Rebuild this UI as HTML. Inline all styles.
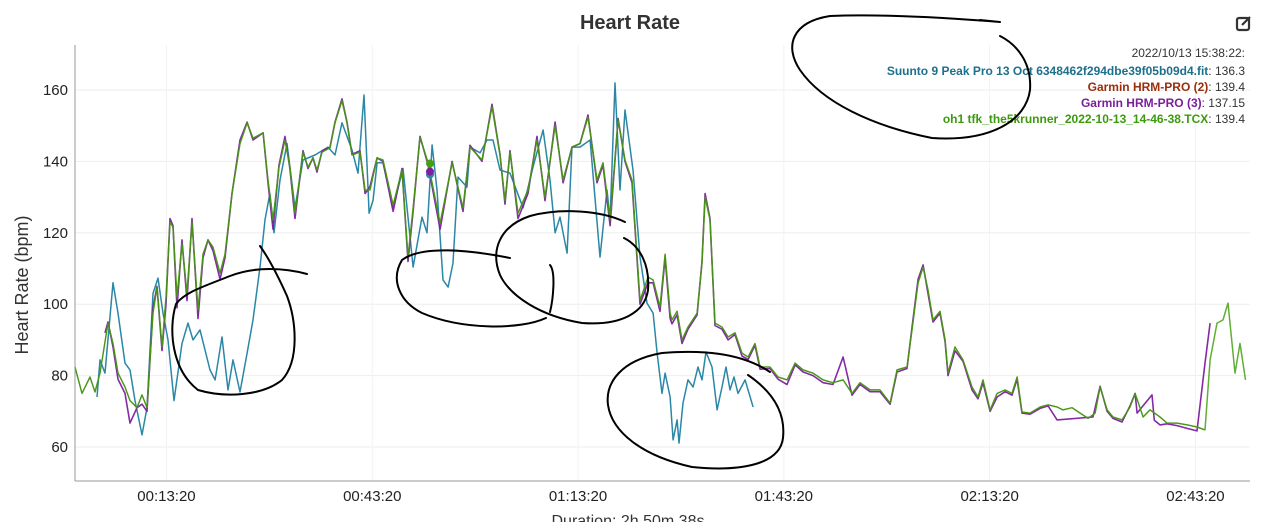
<!DOCTYPE html>
<html><head><meta charset="utf-8"><style>
html,body{margin:0;padding:0;background:#fff;width:1263px;height:522px;overflow:hidden;font-family:"Liberation Sans",sans-serif}
svg{display:block}
</style></head><body>
<svg id="chart" width="1263" height="522">
<text x="630" y="29" text-anchor="middle" font-size="20" font-weight="bold" fill="#333">Heart Rate</text>
<g transform="translate(1236,15)">
<rect x="1" y="3" width="12" height="12" rx="2" fill="none" stroke="#333" stroke-width="2.2"/>
<path d="M6 10 L14 2" stroke="#333" stroke-width="2.2"/>
</g>
<g id="grid"></g>
<g id="series"></g>
<line x1="75" y1="45" x2="75" y2="481" stroke="#999"/>
<line x1="75" y1="481" x2="1250" y2="481" stroke="#999"/>
<g id="ticks" font-size="15" fill="#222"></g>
<text transform="translate(28,285) rotate(-90)" text-anchor="middle" font-size="18" fill="#333">Heart Rate (bpm)</text>
<text x="628" y="526" text-anchor="middle" font-size="16" fill="#333">Duration: 2h 50m 38s</text>
<g font-size="12" text-anchor="end">
<text x="1245" y="57" fill="#333">2022/10/13 15:38:22:</text>
<text x="1245" y="75"><tspan fill="#1d6f8c" font-weight="bold">Suunto 9 Peak Pro 13 Oct 6348462f294dbe39f05b09d4.fit</tspan><tspan fill="#333">: 136.3</tspan></text>
<text x="1245" y="91"><tspan fill="#9a2e0c" font-weight="bold">Garmin HRM-PRO (2)</tspan><tspan fill="#333">: 139.4</tspan></text>
<text x="1245" y="107"><tspan fill="#7a1f9a" font-weight="bold">Garmin HRM-PRO (3)</tspan><tspan fill="#333">: 137.15</tspan></text>
<text x="1245" y="123"><tspan fill="#3d9a0e" font-weight="bold">oh1 tfk_the5krunner_2022-10-13_14-46-38.TCX</tspan><tspan fill="#333">: 139.4</tspan></text>
</g>
<g fill="none" stroke="#000" stroke-width="2" stroke-linecap="round">
<path d="M307,274 C285,268 255,266 230,276 C205,286 185,292 176,304 C168,330 172,370 198,390 C225,398 262,396 282,380 C300,360 296,320 287,296 C278,276 270,260 260,246"/>
<path d="M510,258 C470,250 422,245 402,260 C390,280 400,302 422,313 C462,330 520,330 546,318"/>
<path d="M625,222 C600,210 560,208 530,216 C500,226 490,250 500,275 C510,296 540,316 582,323 C622,326 645,312 648,290 C650,265 640,246 624,238 M550,265 C556,272 553,300 550,312"/>
<path d="M770,372 C740,352 700,350 662,353 C622,360 605,382 608,405 C612,432 642,456 692,467 C742,472 780,464 783,438 C786,410 770,390 748,375"/>
<path d="M1000,22 C950,18 880,14 830,16 C792,22 784,46 800,70 C822,102 872,126 932,138 C992,142 1026,120 1030,90 C1032,62 1016,44 1000,36 M980,20 L1000,22"/>
</g>
</svg>
<script>
const yTicks=[60,80,100,120,140,160];
const xTickSec=[800,2600,4400,6200,8000,9800];
const xTickLabels=["00:13:20","00:43:20","01:13:20","01:43:20","02:13:20","02:43:20"];
const greenTimes=[0,61,131,175,219,289,332,376,437,481,542,586,630,682,717,761,796,831,857,892,936,980,1023,1076,1120,1163,1207,1268,1312,1373,1443,1505,1557,1645,1688,1732,1784,1837,1880,1924,1994,2038,2082,2117,2161,2230,2274,2335,2379,2423,2493,2537,2580,2642,2694,2782,2860,2913,2957,3018,3088,3193,3298,3394,3455,3560,3647,3717,3761,3805,3875,3962,4041,4111,4199,4269,4347,4417,4487,4566,4618,4680,4750,4811,4872,4942,5012,5056,5117,5161,5205,5222,5266,5309,5362,5441,5484,5511,5554,5598,5659,5712,5773,5834,5887,5948,5992,6079,6149,6228,6298,6368,6455,6543,6630,6718,6796,6866,6954,7041,7129,7190,7277,7321,7374,7418,7461,7505,7566,7610,7636,7697,7767,7846,7898,7942,8004,8065,8135,8196,8240,8283,8353,8441,8511,8590,8642,8721,8791,8861,8922,8966,9027,9079,9158,9228,9272,9342,9403,9490,9552,9639,9727,9814,9884,9928,9989,10041,10085,10146,10190,10238];
const greenValues=[82.4,75,79.6,75.4,80.7,94.7,89,80.7,76.8,73,71,74.6,71,97.5,104.8,88,102,123,121.6,102,117,103,123,98.4,114,118,116,108.7,114,131,145,150.8,146.5,148,134.8,123.6,138.4,146,138.4,125.5,142.6,138.4,141,137.6,142.6,143.8,150.8,157,150.8,141.8,142.6,132,132,141,140.4,127.8,137.6,113.2,127,146.8,139.6,122.7,139.6,127,144,140.4,155.3,141.8,129,142.6,125.5,132,146,130,150,134.8,144,145,152.4,134.8,139.6,123.6,151.6,140.4,134.8,101,107.6,106.8,99.2,114,97.5,95.6,98,90,93.6,97.5,111.5,130,123.6,94.7,93.6,90.8,92,86.3,85.2,89,82.4,82.4,79.6,78.8,83.5,81.6,80.7,78.8,78,78.8,75,78,76,76,72.3,81.6,82.4,92.8,106,110.4,104,95.6,98,90,80.7,88,84.4,76.8,74,78.8,70.4,75,76,75,79.6,69.8,69.5,71.2,71.8,71.2,70.4,71,69.5,68,69.5,76.8,70.4,68.4,67.6,71.2,75,68.4,70.4,68.4,66.7,66.7,66.2,65.6,64.8,84.4,94.7,95.6,100.3,80.7,89,78.8];
const garmin2Times=greenTimes.slice(0,165);
const garmin2Values=[82.4,75,79.6,75.4,80.7,94.7,89,80.7,76.8,73,71,74.6,71,97.5,104.8,88,102,123,121.6,102,117,103,123,98.4,114,118,116,108.7,114,131,145,150.8,146.5,148,134.8,123.6,138.4,146,138.4,125.5,142.6,138.4,141,137.6,142.6,143.8,150.8,157,150.8,141.8,142.6,132,132,141,140.4,127.8,137.6,113.2,127,146.8,139.6,122.7,139.6,127,144,140.4,155.3,141.8,129,142.6,125.5,132,146,130,150,134.8,144,145,152.4,134.8,139.6,123.6,151.6,140.4,134.8,101,107.6,106.8,99.2,114,97.5,95.6,98,90,93.6,97.5,111.5,130,123.6,94.7,93.6,90.8,92,86.3,85.2,89,82.4,82.4,79.6,78.8,83.5,81.6,80.7,78.8,78,78.8,75,78,76,76,72.3,81.6,82.4,92.8,106,110.4,104,95.6,98,90,80.7,88,84.4,76.8,74,78.8,70.4,75,76,75,79.6,69.8,69.5,71.2,71.8,71.2,70.4,71,69.5,68,69.5,76.8,70.4,68.4,67.6,71.2,75,68.4,70.4,68.4,66.7,66.7,66.2,65.6,64.8,84.4];
const purpleTimes=[262,289,332,376,437,481,542,586,630,682,717,761,796,831,857,892,936,980,1023,1076,1120,1163,1207,1268,1312,1373,1443,1505,1557,1645,1688,1732,1784,1837,1880,1924,1994,2038,2082,2117,2161,2230,2274,2335,2379,2423,2493,2537,2580,2642,2694,2782,2860,2913,2957,3018,3088,3193,3298,3394,3455,3560,3647,3717,3761,3805,3875,3962,4041,4111,4199,4269,4347,4417,4487,4566,4618,4680,4750,4811,4872,4942,5012,5056,5117,5161,5205,5222,5266,5309,5362,5441,5484,5511,5554,5598,5659,5712,5773,5834,5887,5948,5992,6079,6149,6228,6298,6368,6455,6543,6630,6718,6796,6866,6954,7041,7129,7190,7277,7321,7374,7418,7461,7505,7566,7610,7636,7697,7767,7846,7898,7942,8004,8065,8135,8196,8240,8283,8353,8441,8511,8590,8904,8966,9027,9079,9158,9228,9272,9290,9420,9440,9490,9552,9639,9727,9814,9884,9928,9989];
const purpleValues=[92,95,88,79,75,66.7,71,72,70,99,105,87,100,124,122,99,118,101,124,96,113,118,115,107,113,131,146,151,146,148,134,121,139,147,138,124,143,138,141,137,143,144,151,157.5,151,142,143,131,133,141,140,126,138,112,126,147,139,121,140,126,144.5,140,156,142,128,143,124,131,147,129,151,134,144,145,153,134,139,122,152,140,134,100,106,106,98,113,96,94.5,97,89,93,97,112,131,124,94,93,90,91.5,85.5,84.5,88.5,81.8,82,79,77.5,83,81,80,78,77.5,85.2,74.5,77.5,75.5,75.5,72,81,82,93.5,107,111,103,95,97.5,89.5,80,87,84,76,73.5,78,70,74,75.5,74.5,79,69.5,69.2,70.8,71.5,67.6,68.4,77,70,68,67,71.5,75,69.5,74.6,67.5,66.2,66.5,66,65.2,64.5,83.5,94.7];
const suuntoTimes=[192,219,262,332,376,437,481,525,586,630,682,726,770,813,866,936,988,1032,1093,1181,1225,1286,1338,1382,1443,1505,1557,1618,1662,1705,1741,1793,1854,1924,1994,2099,2213,2274,2335,2423,2475,2528,2572,2607,2642,2694,2782,2869,2957,3035,3079,3123,3166,3219,3263,3306,3350,3429,3455,3543,3604,3656,3717,3805,3919,4006,4094,4155,4199,4242,4304,4347,4417,4505,4592,4653,4680,4723,4767,4811,4881,4942,5003,5056,5091,5134,5161,5205,5231,5266,5283,5318,5362,5406,5449,5484,5519,5572,5616,5659,5694,5729,5764,5799,5861,5931];
const suuntoValues=[74,84.4,80.7,106,97.5,83.5,81.6,73,63.4,71,103,107.3,97.5,90,73,89,94.7,90,92.8,81.6,78.8,90.8,76,84.4,75.4,86.3,95.6,110.4,123.6,131,120,134.8,145,127,140.4,141.8,144,141.8,150.8,143.2,136.7,158.6,125.5,129.2,139.6,139.6,127,138,110.4,124.4,120,144.6,132,106.8,104.8,111.5,135.6,132.8,144,142.4,146,146,137.6,136.7,127,138.4,148.8,134.8,120,124.4,114.3,144,144,146,113.2,132,123.6,162,132,154.4,137.6,113.2,100.3,97.5,86.3,75,80.7,74,62,67.6,61.1,72.3,78.8,76.8,82.4,78.8,86.6,82.4,70.4,76.8,82.4,76,79.6,75,78.8,71.2];
const hoverSec=3105;
const hoverValues=[136.3,137.15,139.4];

function xs(t){return 75+t*0.11433;}
function ys(v){return 90+(160-v)*3.57;}
const NS="http://www.w3.org/2000/svg";
const grid=document.getElementById('grid'),ticks=document.getElementById('ticks'),ser=document.getElementById('series');
yTicks.forEach(v=>{
 const l=document.createElementNS(NS,'line');
 l.setAttribute('x1',75);l.setAttribute('x2',1250);l.setAttribute('y1',ys(v));l.setAttribute('y2',ys(v));
 l.setAttribute('stroke','#eee');
 
 
 grid.appendChild(l);
 const t=document.createElementNS(NS,'text');
 t.setAttribute('x',68);t.setAttribute('y',ys(v)+5);t.setAttribute('text-anchor','end');t.textContent=v;
 
 
 ticks.appendChild(t);
});
xTickSec.forEach((s,i)=>{
 const l=document.createElementNS(NS,'line');
 l.setAttribute('x1',xs(s));l.setAttribute('x2',xs(s));l.setAttribute('y1',45);l.setAttribute('y2',481);
 l.setAttribute('stroke','#f2f2f2');
 
 
 grid.appendChild(l);
 const t=document.createElementNS(NS,'text');
 t.setAttribute('x',xs(s));t.setAttribute('y',501);t.setAttribute('text-anchor','middle');t.textContent=xTickLabels[i];
 
 
 ticks.appendChild(t);
});
function line(times,vals,color,w,op,name){
 const p=document.createElementNS(NS,'path');
 p.setAttribute('d',times.map((t,i)=>(i?'L':'M')+xs(t).toFixed(1)+','+ys(vals[i]).toFixed(1)).join(''));
 p.setAttribute('fill','none');p.setAttribute('stroke',color);p.setAttribute('stroke-width',w);p.setAttribute('opacity',op);p.setAttribute('stroke-linejoin','round');
 
 
 ser.appendChild(p);
}
line(suuntoTimes,suuntoValues,'#2a87a6',1.5,1,'suunto-line');
line(purpleTimes,purpleValues,'#7d1fa0',1.6,0.95,'garmin-3-line');
line(garmin2Times,garmin2Values,'#5a3a22',1,0.9,'garmin-2-line');
line(greenTimes,greenValues,'#44a012',1.5,0.85,'oh1-line');
const cols=['#2a87a6','#7d1fa0','#44a012'];
hoverValues.forEach((v,i)=>{
 const c=document.createElementNS(NS,'circle');
 c.setAttribute('cx',xs(hoverSec));c.setAttribute('cy',ys(v));c.setAttribute('r',4);c.setAttribute('fill',cols[i]);
 
 
 ser.appendChild(c);
});
</script>
</body></html>
